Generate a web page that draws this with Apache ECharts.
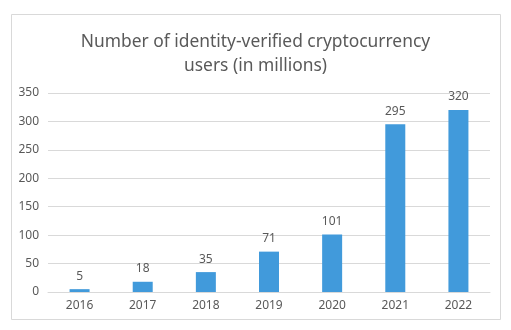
<!DOCTYPE html>
<html><head><meta charset="utf-8">
<script src="https://cdn.jsdelivr.net/npm/echarts@6/dist/echarts.min.js"></script>
<style>html,body{margin:0;padding:0;background:#fff}#c{width:511px;height:330px}</style>
</head><body><div id="c"></div>
<script>
const categories = ['2016','2017','2018','2019','2020','2021','2022'];
const users = [5, 18, 35, 71, 101, 295, 320];
const titleText = 'Number of identity-verified cryptocurrency\nusers (in millions)';

const chart = echarts.init(document.getElementById('c'));
chart.setOption({
  backgroundColor: '#fff',
  animation: false,
  graphic: [{
    type: 'rect', shape: {x: 11.5, y: 14.5, width: 489, height: 305},
    style: {fill: 'none', stroke: '#d9d9d9', lineWidth: 1}, z: -1
  }],
  title: {
    text: titleText, left: 'center', top: 25,
    textStyle: {fontFamily: 'Noto Sans', fontSize: 17.4, fontWeight: 'normal', color: '#595959', lineHeight: 24}
  },
  grid: {left: 48, right: 21, top: 93, bottom: 38},
  xAxis: {
    type: 'category', data: categories,
    axisLine: {lineStyle: {color: '#d9d9d9'}},
    axisTick: {show: false},
    axisLabel: {color: '#595959', fontSize: 12, margin: 8, fontFamily: 'Noto Sans'}
  },
  yAxis: {
    type: 'value', min: 0, max: 350, interval: 50,
    axisLine: {show: false}, axisTick: {show: false},
    splitLine: {lineStyle: {color: '#d9d9d9'}},
    axisLabel: {color: '#595959', fontSize: 12, margin: 9, fontFamily: 'Noto Sans'}
  },
  series: [{
    type: 'bar', data: users, barWidth: 20,
    itemStyle: {color: '#419ADB'},
    label: {show: true, position: 'top', distance: 7, color: '#595959', fontSize: 12, fontFamily: 'Noto Sans'}
  }]
});
</script></body></html>
